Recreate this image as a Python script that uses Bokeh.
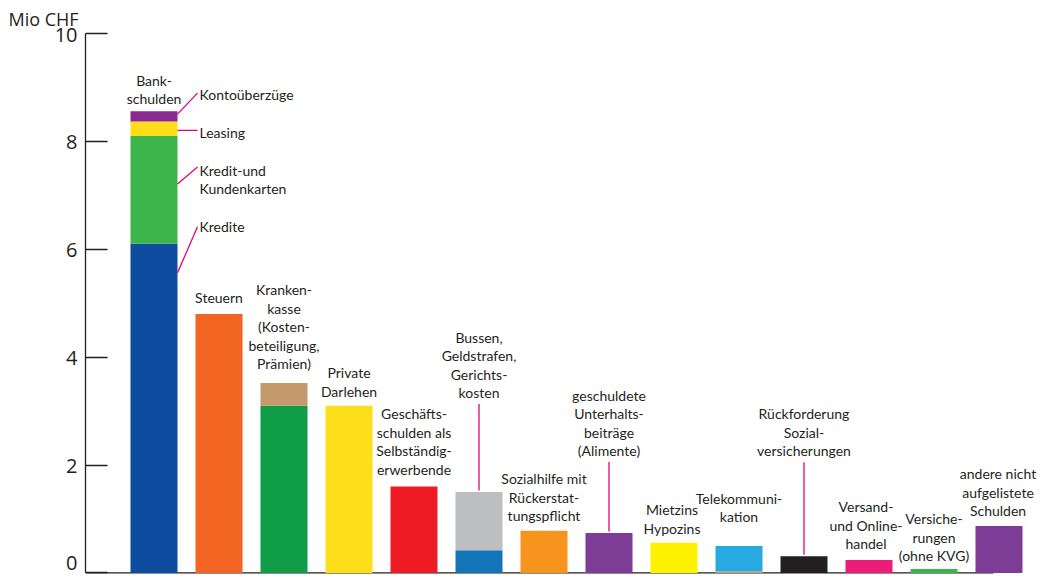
from bokeh.plotting import figure
from bokeh.models import Range1d, FixedTicker, ColumnDataSource
from bokeh.core.properties import value
from bokeh.embed import file_html
from bokeh.resources import INLINE

# ---------------- data ----------------
categories = [
    "Bank-\nschulden",
    "Steuern",
    "Kranken-\nkasse\n(Kosten-\nbeteiligung,\nPrämien)",
    "Private\nDarlehen",
    "Geschäfts-\nschulden als\nSelbständig-\nerwerbende",
    "Bussen,\nGeldstrafen,\nGerichts-\nkosten",
    "Sozialhilfe mit\nRückerstat-\ntungspflicht",
    "geschuldete\nUnterhalts-\nbeiträge\n(Alimente)",
    "Mietzins\nHypozins",
    "Telekommuni-\nkation",
    "Rückforderung\nSozial-\nversicherungen",
    "Versand-\nund Online-\nhandel",
    "Versiche-\nrungen\n(ohne KVG)",
    "andere nicht\naufgelistete\nSchulden",
]
# stacked segments, bottom to top (Mio CHF)
seg_1 = [6.1, 4.8, 3.1, 3.1, 1.6, 0.42, 0.78, 0.74, 0.56, 0.03, 0.31, 0.24, 0.07, 0.87]
seg_2 = [2.0, 0, 0.42, 0, 0, 1.08, 0, 0, 0, 0.47, 0, 0, 0, 0]
seg_3 = [0.27, 0, 0, 0, 0, 0, 0, 0, 0, 0, 0, 0, 0, 0]
seg_4 = [0.19, 0, 0, 0, 0, 0, 0, 0, 0, 0, 0, 0, 0, 0]
bank_parts = ["Kredite", "Kredit-und\nKundenkarten", "Leasing", "Kontoüberzüge"]
y_ticks = [0, 2, 4, 6, 8, 10]
y_unit = "Mio CHF"

# ---------------- styles ----------------
colors_1 = ["#0d4c9e", "#f26522", "#0f9d48", "#fedd1a", "#ed1c24", "#1474b8", "#f7941d",
            "#7d3c96", "#fff200", "#c49a6c", "#231f20", "#ec1c79", "#39b54a", "#7d3c96"]
colors_2 = ["#3db54a", None, "#c49a6c", None, None, "#bcbec0", None, None, None, "#27aae1",
            None, None, None, None]
colors_3 = ["#fedd1a"] + [None] * 13
colors_4 = ["#8b2a8e"] + [None] * 13
TXT = "#231f20"
PINK = "#e6007e"
LFONT = "Lato"

W, H = 1045, 578
LEFT, RIGHT, TOP, BOTTOM = 85, 5, 33, 4
STEP = 65.0
FIRST_CENTER = 153.5
BAR_W = 47 / STEP

x_start = (LEFT - FIRST_CENTER) / STEP
x_end = x_start + (W - LEFT - RIGHT) / STEP
y_start, y_end = -0.03, 10
ppu_y = (H - TOP - BOTTOM) / (y_end - y_start)

p = figure(width=W, height=H, x_range=Range1d(x_start, x_end), y_range=Range1d(y_start, y_end),
           output_backend="svg", toolbar_location=None, x_axis_type=None,
           min_border_left=LEFT, min_border_right=RIGHT, min_border_top=TOP,
           min_border_bottom=BOTTOM)
p.grid.visible = False
p.outline_line_color = None
p.background_fill_color = "white"
p.border_fill_color = "white"

p.title.text = y_unit
p.title.align = "left"
p.title.offset = -77
p.title.text_font = "Open Sans"
p.title.text_font_style = "normal"
p.title.text_font_size = "18px"
p.title.text_color = TXT
p.title.standoff = 6

ax = p.yaxis[0]
ax.ticker = FixedTicker(ticks=y_ticks)
ax.bounds = (0, 10)
ax.major_tick_in = 22
ax.major_tick_out = 0
ax.minor_tick_line_color = None
ax.axis_line_color = TXT
ax.axis_line_width = 1.3
ax.major_tick_line_color = TXT
ax.major_tick_line_width = 1.3
ax.major_label_text_font = "Open Sans"
ax.major_label_text_font_size = "20px"
ax.major_label_text_color = TXT
ax.major_label_standoff = 8
ax.major_label_text_line_height = 0.1
# end labels nudged inwards as in the source
ax.major_label_overrides = {0: "0\n", 10: "\n10"}

n = len(categories)
idx = list(range(n))

# baseline (ends inside the last bar as in the source)
p.segment(x0=[x_start], y0=[0], x1=[n - 1 - 5.5 / STEP], y1=[0], line_color=TXT, line_width=1.3)

# stacked bars
bottom = [0.0] * n
for seg, cols in [(seg_1, colors_1), (seg_2, colors_2), (seg_3, colors_3), (seg_4, colors_4)]:
    xs, bs, ts, cs = [], [], [], []
    for i in idx:
        if seg[i] > 0:
            xs.append(i); bs.append(bottom[i]); ts.append(bottom[i] + seg[i]); cs.append(cols[i])
    p.vbar(x=xs, bottom=bs, top=ts, width=BAR_W, fill_color=cs, line_color=None)
    bottom = [bottom[i] + seg[i] for i in idx]
totals = bottom

# category labels: gap (px) between bar top and centre of last text line
gaps = [13, 17, 20, 15, 18, 100, 16, 83, 15, 30, 106, 17, 14, 16]
dxs = [0, 0, 0, 0, 0, 0, 0, 0, -2, 0, 0, -3, 0, -1]
LINE_H = 1.09
FS = 14
half_line = 9.3
src = ColumnDataSource(dict(x=idx, y=totals, text=categories,
                            yo=[-(g - half_line) for g in gaps], xo=dxs))
p.text(x="x", y="y", text="text", x_offset="xo", y_offset="yo", source=src,
       text_align="center", text_baseline="bottom", text_line_height=LINE_H,
       text_font=value(LFONT), text_font_size=f"{FS}px", text_color=TXT)

# vertical leader lines for labels lifted high above their bars
for i, g in enumerate(gaps):
    if g > 50:
        p.segment(x0=[i], x1=[i], y0=[totals[i] + 1.5 / ppu_y], y1=[totals[i] + (g - 12) / ppu_y],
                  line_color=PINK, line_width=1.3)

# bank sub-labels with leader lines
bank_vals = [seg_1[0], seg_2[0], seg_3[0], seg_4[0]]
tops = []
acc = 0
for v in bank_vals:
    acc += v
    tops.append(acc)
# (start px below top, end px below top, text centre px below top)
bank_lead = [(29, -17, -17), (48, 31, 43.5), (9, 9, 11), (3, -18, -17)]
x_edge = BAR_W / 2
x_end_line = 43.5 / STEP
for t, (s, e, c), lab in zip(tops, bank_lead, bank_parts):
    p.segment(x0=[x_edge], y0=[t - s / ppu_y], x1=[x_end_line], y1=[t - e / ppu_y],
              line_color=PINK, line_width=1.3)
    p.text(x=[0], y=[t - c / ppu_y], text=[lab], x_offset=45.5, text_align="left",
           text_baseline="middle", text_line_height=LINE_H,
           text_font=value(LFONT), text_font_size=f"{FS}px", text_color=TXT)

open("out.html", "w").write(file_html(p, INLINE))
